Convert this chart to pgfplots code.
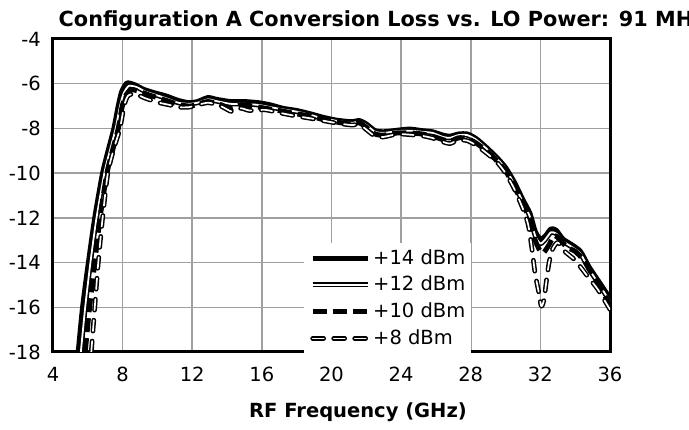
\documentclass[border=0pt]{standalone}
\usepackage{fontspec}
\setmainfont{DejaVu Sans}
\usepackage{pgfplots}
\pgfplotsset{compat=1.18}
\definecolor{gridgray}{RGB}{160,160,160}
\begin{document}
\fontsize{19.5}{23}\selectfont
\begin{tikzpicture}[x=1pt,y=1pt]
\path[use as bounding box] (0,0) rectangle (689,429);
\begin{axis}[
  at={(53pt,77pt)}, anchor=south west,
  scale only axis, width=557pt, height=313pt,
  xmin=4, xmax=36, ymin=-18, ymax=-4,
  xtick={4,8,...,36}, ytick={-18,-16,...,-4},
  xticklabels={4,8,12,16,20,24,28,32,36},
  yticklabels={-18,-16,-14,-12,-10,-8,-6,-4},
  major tick length=0pt,
  grid=major,
  major grid style={draw=gridgray, line width=1.5pt},
  axis line style={line width=3pt, black},
  xticklabel style={inner sep=0pt, anchor=north, yshift=-15pt},
  yticklabel style={inner sep=0pt, anchor=east, xshift=-12pt},
  tick label style={font=\fontsize{19.5}{23}\selectfont},
  legend style={at={(0.4506,0.348)}, anchor=north west, draw=none, fill=white,
    inner sep=6pt, row sep=9pt, column sep=3pt, nodes={inner sep=0pt},
    cells={anchor=west}, font=\fontsize{19.5}{23}\selectfont},
  legend image code/.code={\draw[#1] (0pt,0pt) -- (55pt,0pt);},
  every axis plot/.append style={line join=round},
]
\addplot[black, line width=5pt, smooth, tension=0.4] coordinates {
(5.45,-18) (5.7,-16) (6.0,-14.2) (6.4,-12) (6.85,-10) (7.2,-8.9) (7.5,-8) (7.75,-7.0) (7.95,-6.35) (8.25,-5.97) (8.7,-6.05) (9.2,-6.25) (9.8,-6.4) (10.5,-6.55) (11.2,-6.75) (11.8,-6.85) (12.3,-6.8) (12.9,-6.62) (13.4,-6.7) (14.2,-6.8) (15,-6.8) (15.8,-6.85) (16.5,-6.95) (17.2,-7.1) (18,-7.2) (18.8,-7.35) (19.5,-7.5) (20.2,-7.62) (20.8,-7.68) (21.2,-7.7) (21.6,-7.65) (22.0,-7.8) (22.5,-8.1) (23.0,-8.15) (23.8,-8.08) (24.5,-8.03) (25.2,-8.1) (25.8,-8.15) (26.4,-8.3) (26.8,-8.35) (27.3,-8.25) (27.8,-8.25) (28.3,-8.45) (28.9,-8.85) (29.5,-9.3) (30,-9.75) (30.5,-10.4) (31,-11.2) (31.4,-11.8) (31.7,-12.6) (32.0,-12.95) (32.3,-12.8) (32.6,-12.5) (32.9,-12.55) (33.3,-12.95) (33.8,-13.2) (34.3,-13.5) (34.8,-14.2) (35.4,-14.9) (36,-15.6)
};
\addlegendentry{+14 dBm}
\addplot[black, line width=1.6pt, double=white, double distance=1.8pt, smooth, tension=0.4] coordinates {
(5.6,-18) (5.85,-16) (6.15,-14) (6.5,-12) (6.95,-10) (7.3,-8.9) (7.6,-8) (7.85,-7.0) (8.05,-6.45) (8.35,-6.1) (8.8,-6.15) (9.3,-6.35) (9.9,-6.5) (10.5,-6.65) (11.2,-6.85) (11.8,-6.9) (12.3,-6.85) (12.9,-6.7) (13.4,-6.78) (14.2,-6.9) (15,-6.9) (15.8,-6.95) (16.5,-7.05) (17.2,-7.15) (18,-7.25) (18.8,-7.4) (19.5,-7.55) (20.2,-7.65) (20.8,-7.72) (21.2,-7.75) (21.6,-7.7) (22.0,-7.85) (22.5,-8.15) (23.0,-8.2) (23.8,-8.12) (24.5,-8.1) (25.2,-8.15) (25.8,-8.2) (26.4,-8.38) (26.8,-8.42) (27.3,-8.3) (27.8,-8.3) (28.3,-8.5) (28.9,-8.9) (29.5,-9.35) (30,-9.8) (30.5,-10.5) (31,-11.3) (31.4,-11.95) (31.7,-12.8) (32.0,-13.15) (32.3,-12.95) (32.6,-12.65) (32.9,-12.7) (33.3,-13.05) (33.8,-13.3) (34.3,-13.6) (34.8,-14.3) (35.4,-15.0) (36,-15.75)
};
\addlegendentry{+12 dBm}
\addplot[black, line width=5pt, dash pattern=on 14pt off 6pt, smooth, tension=0.4] coordinates {
(5.85,-18) (6.1,-16) (6.4,-14) (6.7,-12) (7.1,-10) (7.45,-8.9) (7.75,-8) (7.98,-7.0) (8.2,-6.5) (8.5,-6.27) (9.0,-6.35) (9.5,-6.5) (10.1,-6.65) (10.7,-6.8) (11.3,-6.95) (11.9,-7.0) (12.4,-6.9) (12.9,-6.8) (13.5,-6.9) (14.0,-7.05) (14.3,-7.1) (14.8,-6.95) (15.5,-7.0) (16.2,-7.1) (17,-7.2) (18,-7.35) (18.8,-7.45) (19.5,-7.6) (20.2,-7.7) (20.8,-7.78) (21.2,-7.8) (21.6,-7.75) (22.0,-7.95) (22.5,-8.25) (23.0,-8.3) (23.8,-8.2) (24.5,-8.2) (25.2,-8.25) (25.8,-8.35) (26.4,-8.5) (26.8,-8.58) (27.3,-8.42) (27.8,-8.45) (28.3,-8.65) (28.9,-9.0) (29.5,-9.45) (30,-9.9) (30.5,-10.6) (31,-11.4) (31.4,-12.1) (31.7,-13.0) (32.0,-13.5) (32.2,-13.55) (32.5,-13.2) (32.8,-12.8) (33.1,-12.95) (33.5,-13.3) (34.0,-13.5) (34.5,-13.9) (35,-14.5) (35.5,-15.2) (36,-15.9)
};
\addlegendentry{+10 dBm}
\addplot[black, line width=1.5pt, double=white, double distance=1.7pt, dash pattern=on 11pt off 10pt, line cap=round, smooth, tension=0.4] coordinates {
(6.2,-18) (6.4,-16) (6.6,-14) (6.85,-12) (7.15,-10) (7.5,-8.9) (7.85,-8) (8.08,-7.0) (8.3,-6.55) (8.7,-6.45) (9.3,-6.65) (10.1,-6.85) (10.7,-6.95) (11.2,-7.05) (11.8,-7.05) (12.3,-6.95) (12.9,-6.85) (13.5,-6.95) (14.0,-7.15) (14.3,-7.25) (14.8,-7.1) (15.3,-7.2) (16.2,-7.17) (17,-7.3) (18,-7.45) (18.8,-7.55) (19.5,-7.65) (20.2,-7.75) (20.8,-7.82) (21.2,-7.85) (21.6,-7.82) (22.0,-8.05) (22.5,-8.35) (23.0,-8.38) (23.8,-8.25) (24.5,-8.28) (25.2,-8.33) (25.8,-8.43) (26.4,-8.6) (26.8,-8.68) (27.3,-8.52) (27.8,-8.55) (28.3,-8.75) (28.9,-9.1) (29.5,-9.5) (30,-10.0) (30.5,-10.7) (31,-11.6) (31.3,-12.3) (31.5,-13.3) (31.7,-14.5) (31.9,-15.3) (32.05,-15.95) (32.2,-15.7) (32.35,-14.8) (32.5,-14.0) (32.7,-13.4) (33.0,-13.1) (33.4,-13.5) (34.0,-13.9) (34.7,-14.6) (35.3,-15.2) (36,-16.1)
};
\addlegendentry{+8 dBm}
\end{axis}
\node[anchor=base west, font=\fontsize{20.8}{24}\selectfont\bfseries] at (52,402) {Configuration A Conversion Loss vs. LO Power: 91 MHz};
\node[anchor=base, font=\bfseries] at (358,12) {RF Frequency (GHz)};
\end{tikzpicture}
\end{document}
